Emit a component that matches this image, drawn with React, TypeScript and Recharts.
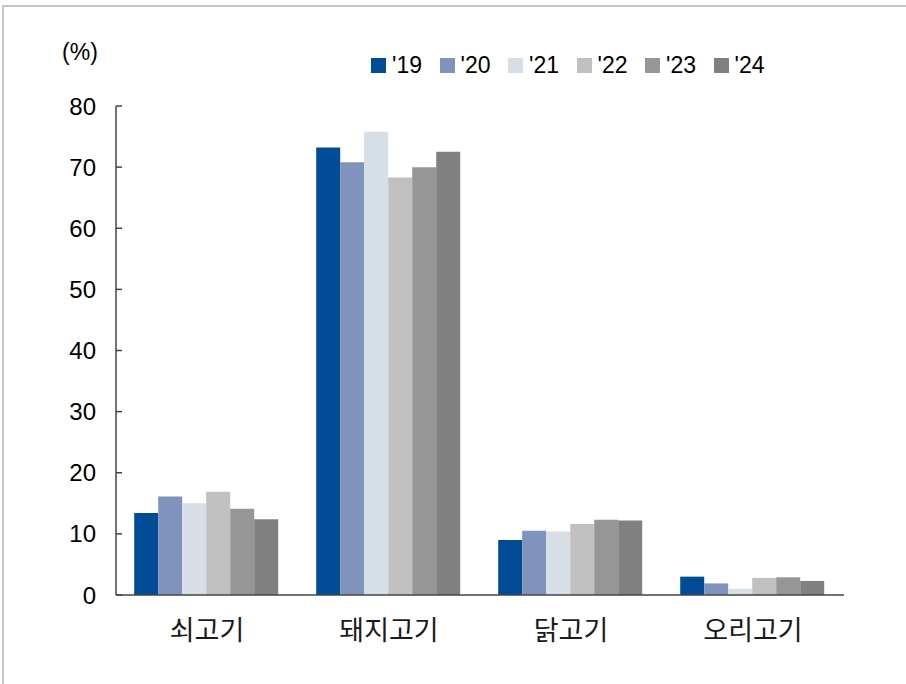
import React from 'react';
import {
  BarChart,
  Bar,
  XAxis,
  YAxis,
  Legend,
} from 'recharts';

const categories = ['쇠고기', '돼지고기', '닭고기', '오리고기'];
const years = ["'19", "'20", "'21", "'22", "'23", "'24"];
const v19 = [13.4, 73.2, 9.0, 3.0];
const v20 = [16.1, 70.8, 10.5, 1.9];
const v21 = [15.0, 75.8, 10.4, 1.0];
const v22 = [16.9, 68.3, 11.6, 2.8];
const v23 = [14.1, 70.0, 12.3, 2.9];
const v24 = [12.4, 72.5, 12.2, 2.3];
const yTicks = [0, 10, 20, 30, 40, 50, 60, 70, 80];
const edgeTicks = [0, 1, 2, 3, 4];

const colors = ['#004C97', '#7F93BC', '#D6DEE6', '#C0C0C0', '#969696', '#808080'];
const series = [v19, v20, v21, v22, v23, v24];

const data = categories.map((name, i) => {
  const row: Record<string, string | number> = { name };
  years.forEach((y, j) => {
    row[y] = series[j][i];
  });
  return row;
});

const numFont = "'Liberation Sans', Arial, sans-serif";
const axisColor = '#444';

const LegendContent = (props: any) => {
  const { payload } = props;
  return (
    <div style={{ display: 'flex', height: 20, fontFamily: numFont, fontSize: 23, color: '#000' }}>
      {(payload || []).map((p: any) => (
        <div
          key={p.value}
          style={{ display: 'flex', alignItems: 'center', width: 68.5, height: 20 }}
        >
          <span
            style={{
              display: 'inline-block',
              width: 15,
              height: 15,
              background: p.color,
              marginRight: 6,
            }}
          />
          <span style={{ lineHeight: '20px' }}>{p.value}</span>
        </div>
      ))}
    </div>
  );
};

const App: React.FC = () => {
  return (
    <div style={{ position: 'absolute', left: 0, top: 0, width: 906, height: 684, background: '#fff' }}>
      <div
        style={{
          position: 'absolute',
          left: 2,
          top: 5,
          width: 904,
          height: 679,
          borderTop: '2px solid #c6c6c6',
          borderLeft: '2px solid #c6c6c6',
          boxSizing: 'border-box',
        }}
      />
      <div style={{ position: 'absolute', left: 0, top: 0 }}>
        <BarChart
          width={906}
          height={684}
          data={data}
          margin={{ top: 86, right: 62, bottom: 49, left: 44 }}
          barCategoryGap="10%"
          barGap={0}
        >
          <XAxis
            xAxisId="edge"
            type="number"
            domain={[0, 4]}
            ticks={edgeTicks}
            height={0}
            axisLine={false}
            tick={false}
            tickSize={-8}
            tickLine={{ stroke: axisColor, strokeWidth: 1.5 }}
          />
          <XAxis
            dataKey="name"
            height={40}
            axisLine={{ stroke: axisColor, strokeWidth: 1.5 }}
            tickLine={false}
            tickSize={0}
            tickMargin={26}
            tick={{ fill: '#1a1a1a', fontSize: 27, fontFamily: "'Noto Sans CJK KR', sans-serif" }}
          />
          <YAxis
            width={72}
            domain={[0, 80]}
            ticks={yTicks}
            interval={0}
            axisLine={{ stroke: axisColor, strokeWidth: 1.5 }}
            tickLine={{ stroke: axisColor, strokeWidth: 1.5 }}
            tickSize={-6}
            tickMargin={26}
            tick={{ fill: '#000', fontSize: 24, fontFamily: numFont }}
            label={{
              value: '(%)',
              position: 'top',
              offset: 46,
              fill: '#000',
              fontSize: 23,
              fontFamily: numFont,
            }}
          />
          <Legend
            verticalAlign="top"
            align="left"
            content={<LegendContent />}
            wrapperStyle={{ top: 55, left: 371, width: 420 }}
          />
          {years.map((y, i) => (
            <Bar
              key={y}
              dataKey={y}
              fill={colors[i]}
              isAnimationActive={false}
            />
          ))}
        </BarChart>
      </div>
    </div>
  );
};

export default App;
